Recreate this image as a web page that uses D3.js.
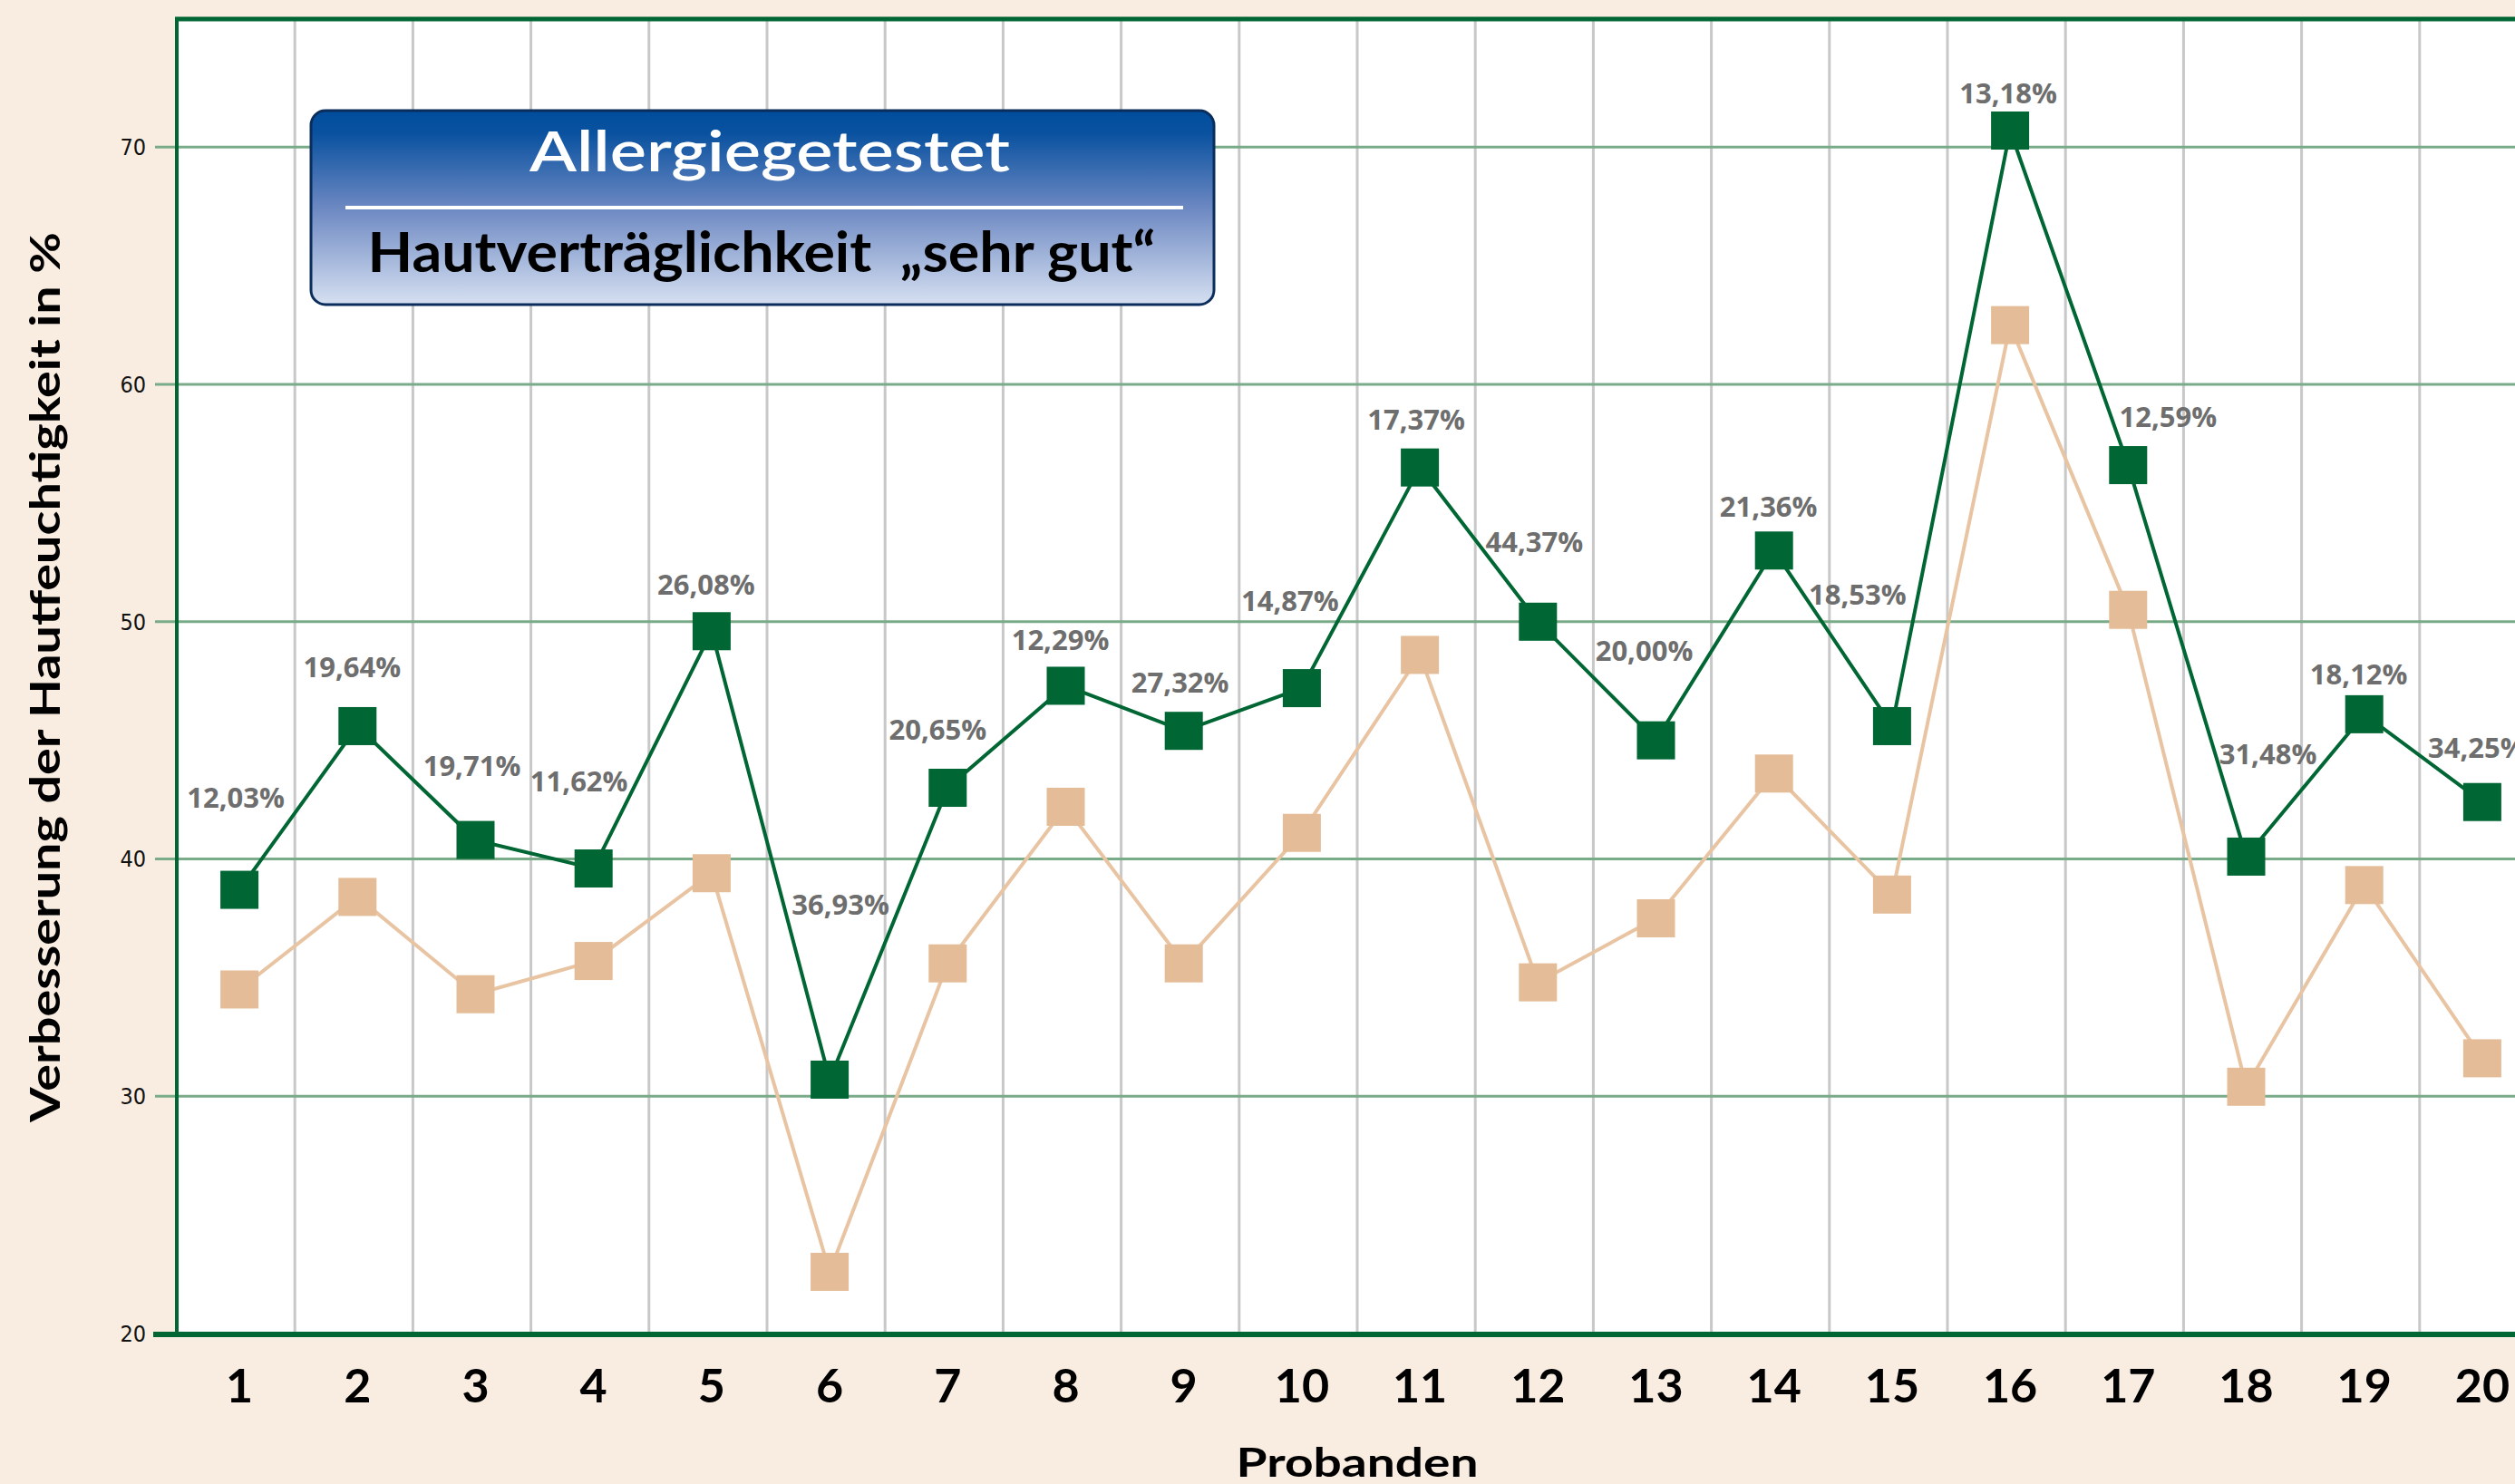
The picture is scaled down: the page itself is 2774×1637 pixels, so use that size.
<!DOCTYPE html>
<html>
<head>
<meta charset="utf-8">
<script src="https://cdn.jsdelivr.net/npm/d3@7"></script>
<style>
  html, body { margin: 0; padding: 0; background: #f9ede1; overflow: hidden; }
  svg { display: block; }
</style>
</head>
<body>
<svg id="chart" width="2774" height="1637"></svg>
<script>
// Probanden 1..20, Hautfeuchtigkeit vorher / nachher (%)
const probanden = [1, 2, 3, 4, 5, 6, 7, 8, 9, 10, 11, 12, 13, 14, 15, 16, 17, 18, 19, 20];
const vorher  = [34.5, 38.4, 34.3, 35.7, 39.4, 22.6, 35.6, 42.2, 35.6, 41.1, 48.6, 34.8, 37.5, 43.6, 38.5, 62.5, 50.5, 30.4, 38.9, 31.6];
const nachher = [38.7, 45.6, 40.8, 39.6, 49.6, 30.7, 43.0, 47.3, 45.4, 47.2, 56.5, 50.0, 45.0, 53.0, 45.6, 70.7, 56.6, 40.1, 46.1, 42.4];
const zuwachs = ["12,03%", "19,64%", "19,71%", "11,62%", "26,08%", "36,93%", "20,65%", "12,29%", "27,32%", "14,87%",
                 "17,37%", "44,37%", "20,00%", "21,36%", "18,53%", "13,18%", "12,59%", "31,48%", "18,12%", "34,25%"];
const yTicks = [20, 30, 40, 50, 60, 70];

// label placement relative to the green marker (px)
const labelOffsets = [[-4, -101], [-6, -65], [-4, -81], [-16, -96], [-6, -51], [12, -193], [-11, -64], [-6, -50], [-4, -53], [-13, -96],
                      [-4, -53], [-4, -88], [-13, -99], [-6, -48], [-38, -145], [-2, -41], [44, -53], [24, -113], [-6, -44], [-6, -60]];

const GREEN = "#006633", TAN = "#e4bd98", TANLINE = "#e8c4a2";
const plotLeft = 195, plotTop = 21, plotBottom = 1471, step = 130.2;

const svg = d3.select("#chart");

const x = d3.scaleBand().domain(probanden).range([plotLeft, plotLeft + step * probanden.length]).padding(0);
const cx = d => x(d) + x.bandwidth() / 2 + 4;
const y = d3.scaleLinear().domain([20, 75.4]).range([plotBottom, plotTop]);

// plot background
svg.append("rect")
  .attr("x", plotLeft).attr("y", plotTop)
  .attr("width", 2774 - plotLeft).attr("height", plotBottom - plotTop)
  .attr("fill", "#fff");

// vertical grid (between Probanden)
svg.append("g")
  .selectAll("line")
  .data(probanden)
  .enter().append("line")
    .attr("x1", d => x(d) + x.bandwidth()).attr("x2", d => x(d) + x.bandwidth())
    .attr("y1", plotTop).attr("y2", plotBottom)
    .attr("stroke", "#c8c8c8")
    .attr("stroke-width", 3);

// horizontal grid + left ticks
svg.append("g")
  .selectAll("line")
  .data(yTicks.filter(t => t > 20))
  .enter().append("line")
    .attr("x1", 171).attr("x2", 2774)
    .attr("y1", d => y(d)).attr("y2", d => y(d))
    .attr("stroke", "#7aab89")
    .attr("stroke-width", 3);

// y tick labels
svg.append("g")
  .selectAll("text")
  .data(yTicks)
  .enter().append("text")
    .attr("x", 161)
    .attr("y", d => y(d))
    .attr("dy", "0.35em")
    .attr("text-anchor", "end")
    .attr("font-family", "'Liberation Sans Narrow', 'DejaVu Sans Condensed', sans-serif")
    .attr("font-stretch", "condensed")
    .attr("font-size", 25)
    .attr("fill", "#111")
    .text(d => d);

// frame: left + top border, thick bottom axis
svg.append("line").attr("x1", plotLeft).attr("x2", plotLeft).attr("y1", plotTop - 2).attr("y2", plotBottom)
  .attr("stroke", GREEN).attr("stroke-width", 4);
svg.append("line").attr("x1", plotLeft - 2).attr("x2", 2774).attr("y1", plotTop).attr("y2", plotTop)
  .attr("stroke", GREEN).attr("stroke-width", 5);
svg.append("line").attr("x1", 169).attr("x2", 2774).attr("y1", plotBottom + 1).attr("y2", plotBottom + 1)
  .attr("stroke", GREEN).attr("stroke-width", 6);

// x tick labels
svg.append("g")
  .selectAll("text")
  .data(probanden)
  .enter().append("text")
    .attr("x", d => cx(d))
    .attr("y", 1547)
    .attr("text-anchor", "middle")
    .attr("font-family", "Lato, 'Open Sans', sans-serif")
    .attr("font-weight", 700)
    .attr("font-size", 52)
    .attr("fill", "#000")
    .text(d => d);

// axis titles
svg.append("text")
  .attr("x", 1497).attr("y", 1629)
  .attr("text-anchor", "middle")
  .attr("font-family", "Lato, 'Open Sans', sans-serif")
  .attr("font-weight", 700)
  .attr("font-size", 44)
  .attr("textLength", 267)
  .attr("lengthAdjust", "spacingAndGlyphs")
  .attr("fill", "#000")
  .text("Probanden");

svg.append("text")
  .attr("transform", "translate(66,747) rotate(-90)")
  .attr("text-anchor", "middle")
  .attr("font-family", "Lato, 'Open Sans', sans-serif")
  .attr("font-weight", 700)
  .attr("font-size", 45)
  .attr("textLength", 982)
  .attr("lengthAdjust", "spacingAndGlyphs")
  .attr("fill", "#000")
  .text("Verbesserung der Hautfeuchtigkeit in %");

// title box
const defs = svg.append("defs");
const grad = defs.append("linearGradient").attr("id", "boxGrad")
  .attr("x1", 0).attr("y1", 0).attr("x2", 0).attr("y2", 1);
grad.append("stop").attr("offset", "0%").attr("stop-color", "#004d9c");
grad.append("stop").attr("offset", "12%").attr("stop-color", "#0a52a0");
grad.append("stop").attr("offset", "50%").attr("stop-color", "#6c88c2");
grad.append("stop").attr("offset", "100%").attr("stop-color", "#d6e0f1");

const box = svg.append("g");
box.append("rect")
  .attr("x", 343).attr("y", 122).attr("width", 996).attr("height", 214)
  .attr("rx", 16)
  .attr("fill", "url(#boxGrad)")
  .attr("stroke", "#0b2d5c")
  .attr("stroke-width", 3);
box.append("line")
  .attr("x1", 381).attr("x2", 1305).attr("y1", 229).attr("y2", 229)
  .attr("stroke", "#fff").attr("stroke-width", 4);
box.append("text")
  .attr("x", 849).attr("y", 189)
  .attr("text-anchor", "middle")
  .attr("font-family", "Lato, 'Open Sans', sans-serif")
  .attr("font-weight", 600)
  .attr("font-size", 62)
  .attr("textLength", 530)
  .attr("lengthAdjust", "spacingAndGlyphs")
  .attr("fill", "#fff")
  .text("Allergiegetestet");
box.append("text")
  .attr("x", 840).attr("y", 300)
  .attr("text-anchor", "middle")
  .attr("font-family", "Lato, 'Open Sans', sans-serif")
  .attr("font-weight", 700)
  .attr("font-size", 62)
  .attr("textLength", 869)
  .attr("lengthAdjust", "spacingAndGlyphs")
  .attr("fill", "#000")
  .style("white-space", "pre")
  .text("Hautverträglichkeit  „sehr gut“");

// series: vorher (tan) then nachher (green)
const series = [
  { values: vorher, line: TANLINE, fill: TAN },
  { values: nachher, line: GREEN, fill: GREEN }
];
const lineGen = d3.line().x((d, i) => cx(probanden[i])).y(d => y(d));
const M = 42;

series.forEach(s => {
  svg.append("path")
    .attr("d", lineGen(s.values))
    .attr("fill", "none")
    .attr("stroke", s.line)
    .attr("stroke-width", 4);
  svg.append("g")
    .selectAll("rect")
    .data(s.values)
    .enter().append("rect")
      .attr("x", (d, i) => cx(probanden[i]) - M / 2)
      .attr("y", d => y(d) - M / 2)
      .attr("width", M).attr("height", M)
      .attr("fill", s.fill);
});

// percentage labels
svg.append("g")
  .selectAll("text")
  .data(zuwachs)
  .enter().append("text")
    .attr("x", (d, i) => cx(probanden[i]) + labelOffsets[i][0])
    .attr("y", (d, i) => y(nachher[i]) + labelOffsets[i][1])
    .attr("dy", "0.35em")
    .attr("text-anchor", "middle")
    .attr("font-family", "'Open Sans', Lato, sans-serif")
    .attr("font-weight", 700)
    .attr("font-size", 31)
    .attr("fill", "#6e6e6e")
    .text(d => d);
</script>
</body>
</html>
